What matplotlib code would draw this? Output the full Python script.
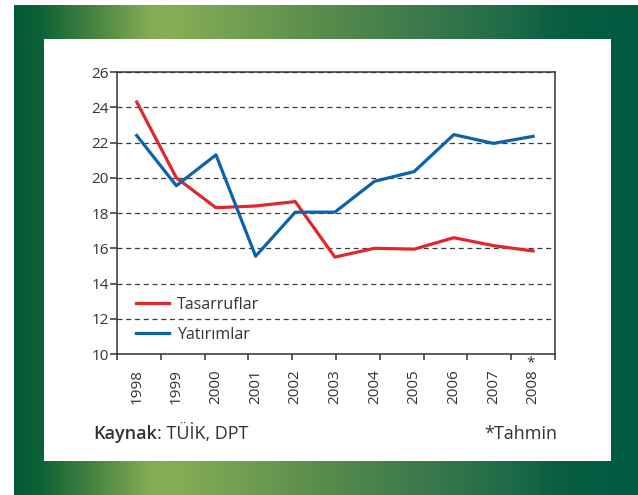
import matplotlib.pyplot as plt
import numpy as np
from matplotlib.colors import LinearSegmentedColormap
from matplotlib.patches import Rectangle

plt.rcParams['font.family'] = ['Open Sans', 'DejaVu Sans']

# VERILER
years = [1998, 1999, 2000, 2001, 2002, 2003, 2004, 2005, 2006, 2007, 2008]
tick_labels = ['1998', '1999', '2000', '2001', '2002', '2003', '2004', '2005', '2006', '2007', '2008']
tasarruflar = [24.3, 20.0, 18.3, 18.4, 18.65, 15.5, 16.0, 15.95, 16.6, 16.15, 15.85]
yatirimlar = [22.4, 19.55, 21.3, 15.55, 18.05, 18.05, 19.8, 20.35, 22.45, 21.95, 22.35]
y_ticks = [10, 12, 14, 16, 18, 20, 22, 24, 26]

red = '#e2262c'
blue = '#0d62ac'
txt = '#333333'

fig = plt.figure(figsize=(6.38, 4.95), dpi=100)

# ARKA PLAN (yesil cerceve + beyaz panel)
bg = fig.add_axes([0, 0, 1, 1], zorder=-10)
bg.axis('off')
stops = [(0.0, '#045c33'), (0.04, '#0c6236'), (0.13, '#4a8641'), (0.22, '#85ac55'),
         (0.245, '#88ae57'), (0.40, '#6a9a50'), (0.50, '#578b4c'), (0.65, '#3c7a4b'),
         (0.80, '#1e6a47'), (0.88, '#085d42'), (1.0, '#005a40')]
cmap = LinearSegmentedColormap.from_list('frame', stops)
grad = np.linspace(0, 1, 512).reshape(1, -1)
bg.imshow(grad, cmap=cmap, aspect='auto', extent=(14, 638, 495, 5))
bg.add_patch(Rectangle((44, 39), 567, 422, facecolor='white', edgecolor='none'))
bg.set_xlim(0, 638)
bg.set_ylim(495, 0)

# GRAFIK
ax = fig.add_axes([0.1834, 0.2848, 0.6866, 0.5697])
ax.plot(years, tasarruflar, color=red, lw=2.3, label='Tasarruflar', zorder=3)
ax.plot(years, yatirimlar, color=blue, lw=2.3, label='Yatırımlar', zorder=3)

xmin, xmax = 1997.503, 2008.555
ax.set_xlim(xmin, xmax)
ax.set_ylim(10, 26)
ax.set_yticks(y_ticks)
ax.set_xticks(years)
ax.set_xticklabels(tick_labels, rotation=90)
ax.set_xticks(np.linspace(xmin, xmax, 11), minor=True)

ax.tick_params(axis='x', which='major', length=0, pad=11, labelsize=11, labelcolor=txt)
ax.tick_params(axis='x', which='minor', length=4.5, width=1.1, color='#333333', direction='out')
ax.tick_params(axis='y', length=5, width=1.1, pad=1, labelsize=11, labelcolor=txt, color='#333333')

ax.grid(axis='y', linestyle=(0, (4, 3)), color='#3c3c3c', lw=0.9)
ax.set_axisbelow(True)
for s in ax.spines.values():
    s.set_color('#333333')
    s.set_linewidth(1.1)

# 2008 yildizi
ax.annotate('*', xy=(years[-1], 0), xycoords=('data', 'axes fraction'),
            xytext=(-1.5, -12), textcoords='offset points', ha='center', va='bottom',
            fontsize=11, color=txt)

leg = ax.legend(loc='upper left', bbox_to_anchor=(0.043, 0.202), frameon=False,
                fontsize=11.5, handlelength=2.05, handletextpad=0.5, labelspacing=0.85,
                borderpad=0, borderaxespad=0)
for t in leg.get_texts():
    t.set_color(txt)

# KAYNAK
t1 = fig.text(0.1458, 0.124, 'Kaynak', fontsize=13, fontweight='semibold', color=txt, va='center')
ax.annotate(': TÜİK, DPT', xy=(1, 0), xycoords=t1, va='bottom', fontsize=13, color=txt)
fig.text(0.873, 0.124, '*Tahmin', fontsize=13, color=txt, ha='right', va='center')

plt.savefig('out.png', dpi=100)
